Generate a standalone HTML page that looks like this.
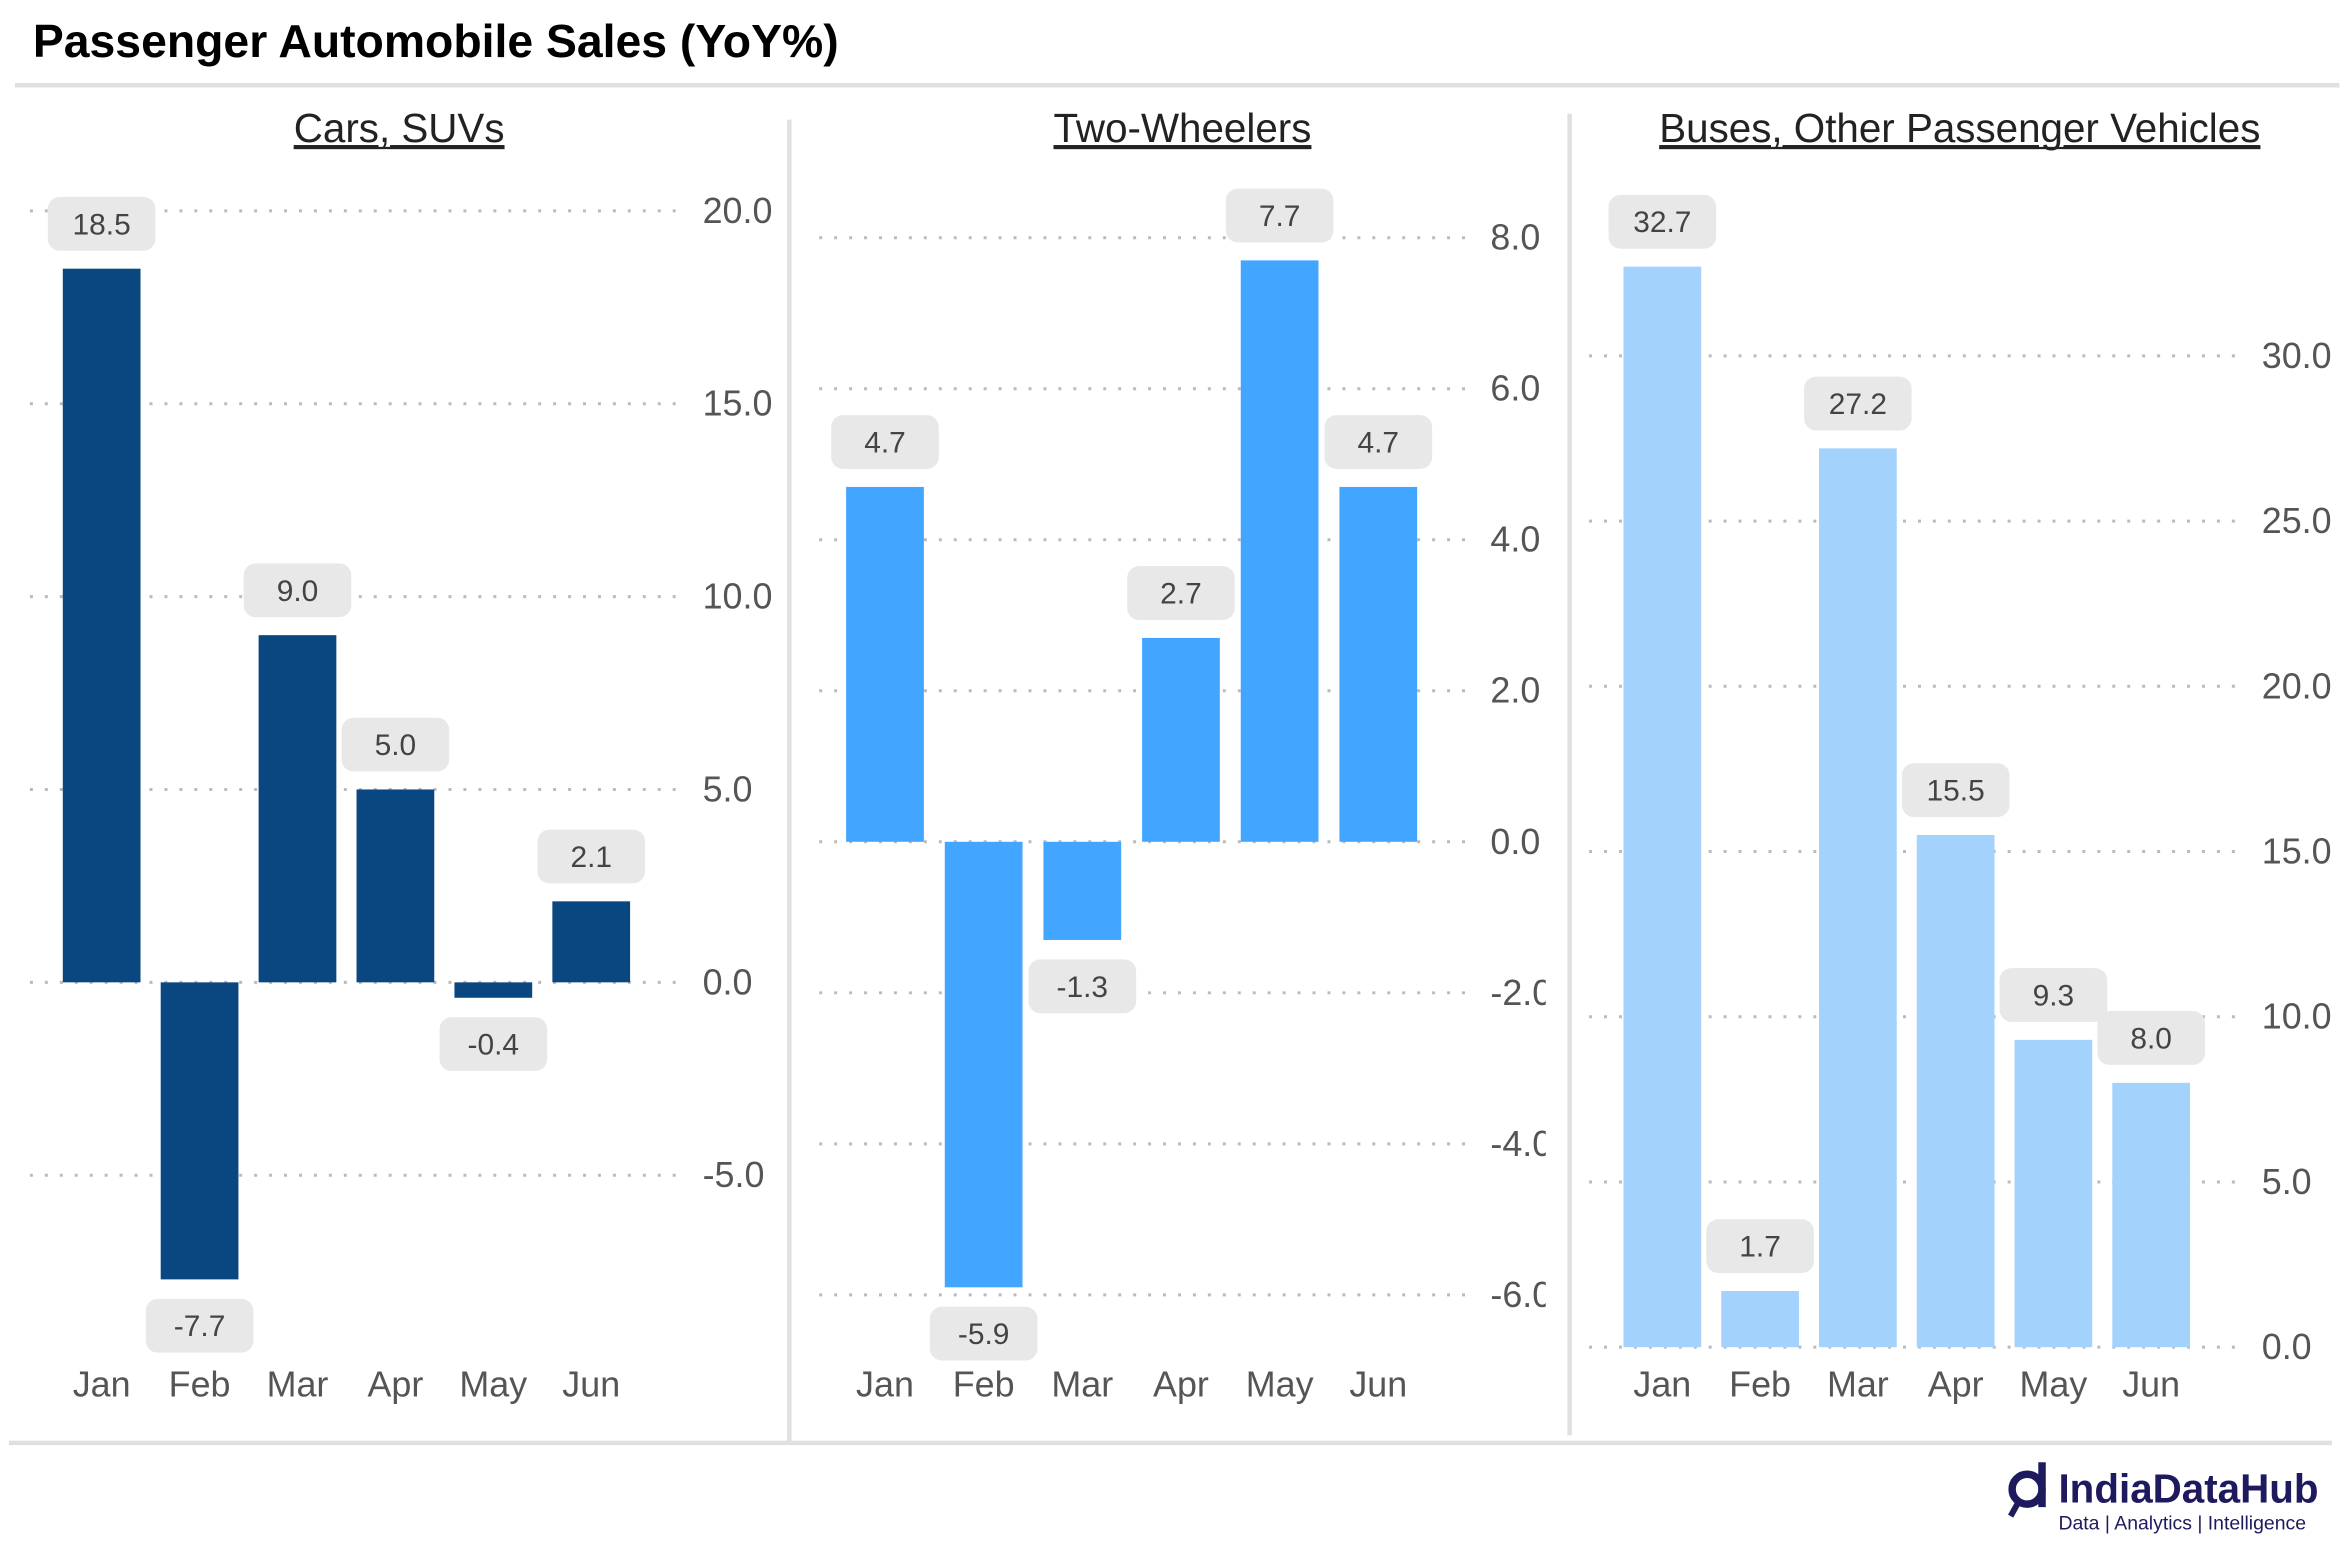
<!DOCTYPE html>
<html><head><meta charset="utf-8"><style>
html,body{margin:0;padding:0;background:#fff;}
svg{display:block;font-family:"Liberation Sans",sans-serif;}
</style></head><body>
<svg id="chart" width="2344" height="1558" viewBox="0 0 1568 1042" preserveAspectRatio="none" xmlns="http://www.w3.org/2000/svg">
<text x="22" y="38" font-size="31" font-weight="bold" fill="#000">Passenger Automobile Sales (YoY%)</text>
<line x1="10" y1="57" x2="1565" y2="57" stroke="#e0e0e0" stroke-width="3"/>
<line x1="6" y1="965" x2="1560" y2="965" stroke="#e0e0e0" stroke-width="3"/>
<line x1="528" y1="80" x2="528" y2="965" stroke="#e0e0e0" stroke-width="3"/>
<line x1="1050" y1="76" x2="1050" y2="960" stroke="#e0e0e0" stroke-width="3"/>
<g id="panels"></g>
<g>
<circle cx="1356" cy="996" r="10" fill="none" stroke="#1e1a5e" stroke-width="5"/>
<line x1="1366" y1="978" x2="1366" y2="1008" stroke="#1e1a5e" stroke-width="5"/>
<line x1="1350" y1="1005" x2="1345" y2="1014" stroke="#1e1a5e" stroke-width="4"/>
<text x="1377" y="1005" font-size="27" font-weight="bold" fill="#1e1a5e">IndiaDataHub</text>
<text x="1377" y="1023" font-size="13" fill="#1e1a5e">Data | Analytics | Intelligence</text>
</g>
</svg>
<script>
const months = ["Jan","Feb","Mar","Apr","May","Jun"];
const carsTitle = "Cars, SUVs";
const carsValues = [18.5,-7.7,9.0,5.0,-0.4,2.1];
const carsTicks = [-5,0,5,10,15,20];
const twoTitle = "Two-Wheelers";
const twoValues = [4.7,-5.9,-1.3,2.7,7.7,4.7];
const twoTicks = [-6,-4,-2,0,2,4,6,8];
const busTitle = "Buses, Other Passenger Vehicles";
const busValues = [32.7,1.7,27.2,15.5,9.3,8.0];
const busTicks = [0,5,10,15,20,25,30];

const NS="http://www.w3.org/2000/svg";
const root=document.getElementById('panels');
function mk(tag,attrs,parent){const e=document.createElementNS(NS,tag);for(const k in attrs)e.setAttribute(k,attrs[k]);parent.appendChild(e);return e;}

const panels=[
 {key:"cars",title:carsTitle,vals:carsValues,ticks:carsTicks,color:"#0a4780",x0:68,step:65.5,gx1:20,gx2:452,tx:470,titleX:267,v0:0,p0:657,v1:20,p1:141,clip:null},
 {key:"two",title:twoTitle,vals:twoValues,ticks:twoTicks,color:"#42a5ff",x0:592,step:66,gx1:548,gx2:980,tx:997,titleX:791,v0:0,p0:563,v1:8,p1:159,clip:1034},
 {key:"bus",title:busTitle,vals:busValues,ticks:busTicks,color:"#a3d2fd",x0:1112,step:65.4,gx1:1063,gx2:1495,tx:1513,titleX:1311,v0:0,p0:901,v1:30,p1:238,clip:null}
];
panels.forEach((p,pi)=>{
 const y=v=>p.p0+(v-p.v0)*(p.p1-p.p0)/(p.v1-p.v0);
 const x=i=>p.x0+i*p.step;
 const g=mk('g',{},root);
 
 
 if(p.clip){const cp=mk('clipPath',{id:'clip'+pi,clipPathUnits:'userSpaceOnUse'},g);mk('rect',{x:0,y:0,width:p.clip,height:1042},cp);}
 const t=mk('text',{x:p.titleX,y:95,'font-size':27,fill:'#222','text-anchor':'middle','text-decoration':'underline'},g);
 t.textContent=p.title;
 
 
 mk('line',{x1:p.titleX-t.getComputedTextLength()/2,x2:p.titleX+t.getComputedTextLength()/2,y1:99,y2:99,stroke:'#222','stroke-width':1.5},g);
 p.ticks.forEach(tv=>{
  const gl=mk('line',{x1:p.gx1,x2:p.gx2,y1:y(tv),y2:y(tv),stroke:'#bbb','stroke-width':2,'stroke-dasharray':'2 8'},g);
  
  
  const tl=mk('text',{x:p.tx,y:y(tv)+8,'font-size':24,fill:'#555'},g);
  if(p.clip)tl.setAttribute('clip-path','url(#clip'+pi+')');
  tl.textContent=tv.toFixed(1);
  
  
 });
 p.vals.forEach((v,i)=>{
  const top=Math.min(y(v),y(0)),h=Math.abs(y(v)-y(0));
  const b=mk('rect',{x:x(i)-26,y:top,width:52,height:h,fill:p.color},g);
  
  
  const cy=v>=0?y(v)-30:y(v)+31;
  const lb=mk('rect',{x:x(i)-36,y:cy-18,width:72,height:36,rx:8,fill:'#e8e8e8'},g);
  
  
  const lt=mk('text',{x:x(i),y:cy+7,'font-size':20,fill:'#444','text-anchor':'middle'},g);
  lt.textContent=v.toFixed(1);
  
  
  const mt=mk('text',{x:x(i),y:934,'font-size':24,fill:'#555','text-anchor':'middle'},g);
  mt.textContent=months[i];
  
  
 });
});
</script>
</body></html>
